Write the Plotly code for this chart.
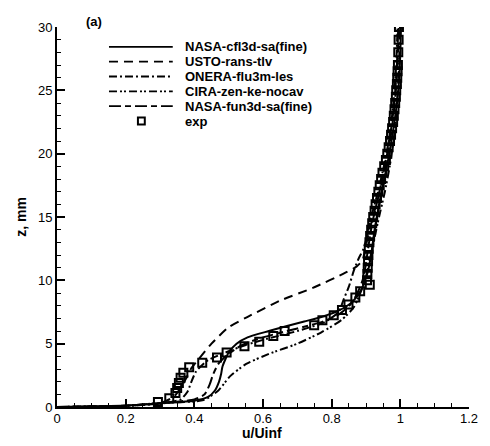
import plotly.graph_objects as go

# experiment
exp_u = [0.294, 0.327, 0.345, 0.35, 0.355, 0.36, 0.368, 0.385, 0.423, 0.466, 0.494, 0.546,
         0.589, 0.63, 0.663, 0.749, 0.773, 0.806, 0.83, 0.849, 0.869, 0.883, 0.911,
         0.903, 0.904, 0.905, 0.906, 0.907, 0.908, 0.91, 0.912, 0.915, 0.918, 0.921,
         0.925, 0.928, 0.932, 0.936, 0.94, 0.944, 0.948, 0.953, 0.958, 0.962, 0.966,
         0.97, 0.973, 0.976, 0.979, 0.981, 0.983, 0.985, 0.987, 0.988, 0.99, 0.991,
         0.992, 0.993, 0.994, 0.995, 0.996]
exp_z = [0.4, 0.7, 1.1, 1.5, 1.9, 2.3, 2.7, 3.14, 3.5, 3.9, 4.3, 4.8,
         5.15, 5.6, 6.0, 6.45, 6.85, 7.25, 7.65, 8.1, 8.65, 9.14, 9.66,
         10.0, 10.5, 11.0, 11.5, 12.0, 12.5, 13.0, 13.5, 14.0, 14.5, 15.0,
         15.5, 16.0, 16.5, 17.0, 17.5, 18.0, 18.5, 19.0, 19.5, 20.0, 20.5,
         21.0, 21.5, 22.0, 22.5, 23.0, 23.5, 24.0, 24.5, 25.0, 25.5, 26.0,
         26.5, 27.0, 28.0, 29.0, 30.0]

cfl3d_u = [0, 0.1, 0.2, 0.3, 0.4, 0.44, 0.46, 0.472, 0.478, 0.482, 0.5, 0.523, 0.555, 0.617,
           0.67, 0.72, 0.77, 0.82, 0.86, 0.885, 0.9, 0.908, 0.915, 0.925, 0.938, 0.953,
           0.968, 0.98, 0.99, 0.997, 1.0, 1.002]
cfl3d_z = [0, 0.05, 0.12, 0.3, 0.5, 0.8, 1.3, 2.0, 2.6, 3.2, 4.3, 5.0, 5.5, 6.0,
           6.4, 6.75, 7.1, 7.6, 8.3, 9.2, 10.2, 11.0, 12.0, 14.0, 16.0, 18.0,
           20.0, 22.0, 24.0, 26.0, 28.0, 30.0]

usto_u = [0, 0.2, 0.3, 0.34, 0.36, 0.375, 0.39, 0.413, 0.45, 0.5, 0.554, 0.65, 0.745,
          0.84, 0.873, 0.89, 0.898, 0.906, 0.92, 0.94, 0.957, 0.97, 0.98, 0.987, 0.992, 0.996]
usto_z = [0, 0.1, 0.3, 0.8, 1.5, 2.2, 3.0, 3.8, 5.0, 6.3, 7.1, 8.4, 9.4,
          10.6, 11.1, 11.6, 12.5, 13.5, 15.0, 17.0, 19.0, 21.0, 23.0, 25.0, 27.0, 30.0]

onera_u = [0, 0.2, 0.3, 0.36, 0.38, 0.39, 0.405, 0.44, 0.5, 0.55, 0.6, 0.7, 0.78, 0.82,
           0.835, 0.85, 0.865, 0.88, 0.893, 0.903, 0.915, 0.935, 0.952, 0.966, 0.976, 0.983,
           0.988, 0.992]
onera_z = [0, 0.1, 0.25, 0.6, 1.2, 1.9, 2.8, 3.7, 4.4, 4.9, 5.3, 6.0, 6.7, 7.5,
           8.5, 9.5, 10.8, 11.8, 12.5, 13.5, 15.0, 17.0, 19.0, 21.0, 23.0, 25.0,
           27.0, 30.0]

cira_u = [0, 0.2, 0.29, 0.427, 0.47, 0.503, 0.551, 0.618, 0.7, 0.77, 0.83, 0.865, 0.888,
          0.9, 0.91, 0.922, 0.938, 0.955, 0.969, 0.98, 0.988, 0.995, 0.999]
cira_z = [0, 0.08, 0.3, 0.55, 1.3, 2.4, 3.4, 4.2, 5.0, 5.9, 6.9, 7.9, 9.3,
          10.3, 11.5, 13.0, 15.0, 17.0, 19.0, 21.0, 23.0, 26.0, 30.0]

fun3d_u = [0, 0.2, 0.3, 0.4, 0.43, 0.445, 0.455, 0.47, 0.5, 0.54, 0.6, 0.7, 0.77, 0.82,
           0.855, 0.875, 0.89, 0.898, 0.906, 0.918, 0.935, 0.951, 0.965, 0.976, 0.984,
           0.99, 0.994]
fun3d_z = [0, 0.1, 0.3, 0.6, 1.0, 1.8, 2.6, 3.4, 4.2, 4.9, 5.5, 6.2, 6.7, 7.3,
           8.1, 9.0, 10.0, 11.0, 12.5, 14.5, 16.5, 18.5, 20.5, 22.5, 24.5,
           27.0, 30.0]

modelos = [
    ('NASA-cfl3d-sa(fine)', cfl3d_u, cfl3d_z, 'solid'),
    ('USTO-rans-tlv', usto_u, usto_z, '9px,6px'),
    ('ONERA-flu3m-les', onera_u, onera_z, '8px,3px,2px,3px'),
    ('CIRA-zen-ke-nocav', cira_u, cira_z, '8px,3px,2px,2px,2px,3px'),
    ('NASA-fun3d-sa(fine)', fun3d_u, fun3d_z, '12px,4px,6px,4px'),
]

fig = go.Figure()
for nombre, u, z, dash in modelos:
    fig.add_trace(go.Scatter(
        x=u, y=z, mode='lines', name=nombre,
        line=dict(color='black', width=2, dash=dash, shape='spline', smoothing=0.6),
    ))
fig.add_trace(go.Scatter(
    x=exp_u, y=exp_z, mode='markers', name='exp',
    marker=dict(symbol='square-open', size=8, color='black', line=dict(width=2)),
))

# la página pone 8 px de margen al body: todo se mide en pixeles de pantalla
OFF = 8
L, T, W, H = 57, 23, 420, 384
FW, FH = 490 - OFF, 446 - OFF
def px(x):
    return (x - L) / W
def py(y):
    return (T + H - y) / H

# leyenda dibujada a mano (filas más juntas que la leyenda nativa)
filas = [43, 58, 73, 88, 103, 118]
for (nombre, _, _, dash), fy in zip(modelos, filas):
    fig.add_shape(type='line', xref='paper', yref='paper', x0=px(110), x1=px(175),
                  y0=py(fy), y1=py(fy), line=dict(color='black', width=1.8, dash=dash))
    fig.add_annotation(text=f'<b>{nombre}</b>', xref='paper', yref='paper', x=px(186),
                       y=py(fy), xanchor='left', yanchor='middle', showarrow=False,
                       borderpad=0, font=dict(size=13, color='black'))
fy = filas[-1]
fig.add_shape(type='rect', xref='paper', yref='paper', x0=px(139.5), x1=px(146.5),
              y0=py(fy + 3.5), y1=py(fy - 3.5), line=dict(color='black', width=2))
fig.add_annotation(text='<b>exp</b>', xref='paper', yref='paper', x=px(186),
                   y=py(fy), xanchor='left', yanchor='middle', showarrow=False,
                   borderpad=0, font=dict(size=13, color='black'))

fig.add_annotation(text='<b>(a)</b>', xref='paper', yref='paper', x=px(95), y=py(17),
                   xanchor='center', yanchor='middle', showarrow=False,
                   font=dict(size=13, color='black'))
fig.add_annotation(text='<b>u/Uinf</b>', xref='paper', yref='paper', x=px(266), y=py(433),
                   xanchor='center', yanchor='middle', showarrow=False,
                   font=dict(size=14, color='black'))

eje = dict(showline=True, linecolor='black', linewidth=2, ticks='inside',
           tickcolor='black', tickwidth=2, ticklen=8, showgrid=False, zeroline=False,
           mirror=False, tickfont=dict(size=13, color='black'))

fig.update_layout(
    width=FW, height=FH,
    margin=dict(l=L - OFF, r=FW - (L - OFF) - W, t=T - OFF, b=FH - (T - OFF) - H),
    plot_bgcolor='white', paper_bgcolor='white',
    font=dict(family='Liberation Sans, Arial', color='black'),
    showlegend=False,
    xaxis=dict(range=[0, 1.2], dtick=0.2, tickformat='.1~f', ticklabelstandoff=-2,
               minor=dict(dtick=0.05, ticks='inside', ticklen=4, tickcolor='black', tickwidth=1),
               **eje),
    yaxis=dict(range=[0, 30], dtick=5,
               minor=dict(dtick=1, ticks='inside', ticklen=4, tickcolor='black', tickwidth=1),
               title=dict(text='<b>z, mm</b>', font=dict(size=14), standoff=8), **eje),
)

fig.write_html('out.html')
